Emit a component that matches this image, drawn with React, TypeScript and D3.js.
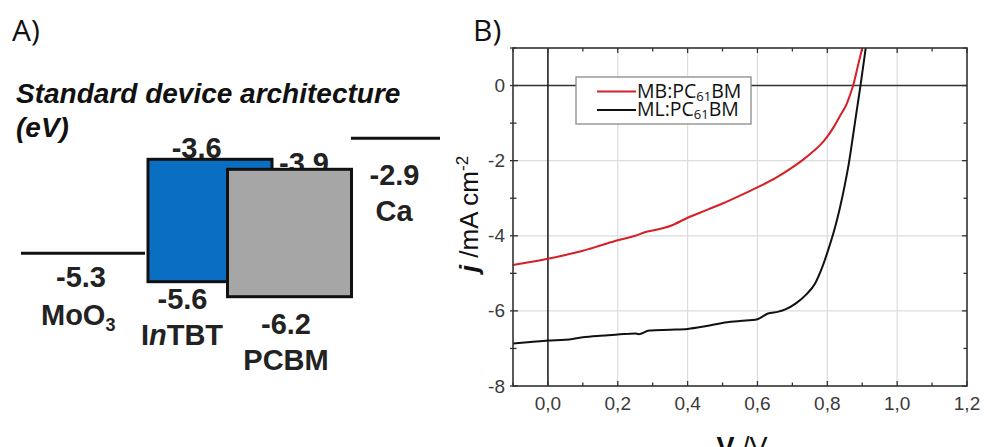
import React from "react";
import * as d3 from "d3";

// ---------- Panel B data (J–V curves) ----------
const mbV = [-0.1, -0.05, 0, 0.05, 0.1, 0.15, 0.2, 0.25, 0.28, 0.3, 0.35, 0.4, 0.45, 0.5, 0.55, 0.6, 0.65, 0.7, 0.73, 0.76, 0.78, 0.8, 0.82, 0.84, 0.855, 0.865, 0.874, 0.887, 0.9];
const mbJ = [-4.78, -4.7, -4.61, -4.51, -4.4, -4.26, -4.12, -4.0, -3.9, -3.86, -3.74, -3.52, -3.33, -3.14, -2.93, -2.71, -2.47, -2.18, -1.98, -1.75, -1.58, -1.36, -1.08, -0.75, -0.5, -0.25, 0, 0.5, 1.0];
const mlV = [-0.1, -0.05, 0, 0.05, 0.1, 0.15, 0.2, 0.25, 0.26, 0.29, 0.35, 0.4, 0.45, 0.5, 0.55, 0.6, 0.63, 0.66, 0.68, 0.71, 0.74, 0.765, 0.785, 0.8, 0.812, 0.822, 0.835, 0.85, 0.862, 0.875, 0.885, 0.895, 0.91];
const mlJ = [-6.87, -6.83, -6.79, -6.77, -6.7, -6.66, -6.63, -6.6, -6.62, -6.52, -6.5, -6.48, -6.41, -6.32, -6.27, -6.22, -6.07, -6.02, -5.96, -5.8, -5.56, -5.27, -4.85, -4.45, -4.1, -3.78, -3.3, -2.65, -2.05, -1.25, -0.62, 0, 1.0];
const xTicks = [0, 0.2, 0.4, 0.6, 0.8, 1.0, 1.2];
const xMinor = [-0.1, 0.1, 0.3, 0.5, 0.7, 0.9, 1.1];
const yTicks = [0, -2, -4, -6, -8];
const yMinor = [1, -1, -3, -5, -7];
const seriesNames = ["MB:PC", "ML:PC"];
const seriesColors = ["#d42026", "#111111"];

// ---------- Panel A data (energy levels, eV) ----------
const levelValues = [-6.2, -5.6, -5.3, -3.9, -3.6, -2.9];
const moo3Level = -5.3;
const intbtLumo = -3.6;
const intbtHomo = -5.6;
const pcbmLumo = -3.9;
const pcbmHomo = -6.2;
const caLevel = -2.9;

const fmtComma = (v: number) => d3.format(".1f")(v).replace(".", ",");

export default function App() {
  // panel B scales
  const x = d3.scaleLinear().domain([-0.1, 1.2]).range([513, 967]);
  const y = d3.scaleLinear().domain([-8, 1]).range([386, 48]);
  const line = d3
    .line<[number, number]>()
    .x((d) => x(d[0]))
    .y((d) => y(d[1]))
    .curve(d3.curveMonotoneX);
  const mb: [number, number][] = mbV.map((v, i) => [v, mbJ[i]]);
  const ml: [number, number][] = mlV.map((v, i) => [v, mlJ[i]]);

  // panel A schematic (not-to-scale) energy axis
  const yE = d3
    .scaleLinear()
    .domain(levelValues)
    .range([296.7, 281.7, 253.3, 169.3, 159.3, 138.3]);

  const boldArial = { fontFamily: "'Liberation Sans', Arial, sans-serif", fontWeight: 700 } as const;
  const lblSize = 29;
  const tickFont = { fontFamily: "'Liberation Sans', Arial, sans-serif", fontSize: 19, fill: "#3a3a3a" } as const;

  return (
    <svg width={987} height={447} style={{ position: "absolute", left: 0, top: 0, background: "#fff" }}>
      <rect width={987} height={447} fill="#fff" />
      <defs>
        <clipPath id="plotclip">
          <rect x={513} y={48} width={454} height={338} />
        </clipPath>
      </defs>

      {/* ---------------- Panel A ---------------- */}
      <text x={12} y={41} fontFamily="'Open Sans', sans-serif" fontSize={30} fill="#111">A)</text>
      <text x={16} y={103} {...boldArial} fontStyle="italic" fontSize={28} fill="#111">Standard device architecture</text>
      <text x={16} y={137} {...boldArial} fontStyle="italic" fontSize={28} fill="#111">(eV)</text>

      {/* MoO3 line */}
      <line x1={21} x2={145} y1={yE(moo3Level)} y2={yE(moo3Level)} stroke="#111" strokeWidth={3} />
      {/* Ca line */}
      <line x1={351} x2={440} y1={yE(caLevel)} y2={yE(caLevel)} stroke="#111" strokeWidth={3} />

      {/* labels under boxes drawn first */}
      <text x={196.7} y={yE(intbtLumo) - 1} textAnchor="middle" {...boldArial} fontSize={lblSize} fill="#222">-3.6</text>
      <text x={304} y={yE(pcbmLumo) + 4} textAnchor="middle" {...boldArial} fontSize={lblSize} fill="#222">-3.9</text>

      {/* InTBT box */}
      <rect x={148} y={yE(intbtLumo)} width={124} height={yE(intbtHomo) - yE(intbtLumo)} fill="#0a6ec2" stroke="#111" strokeWidth={3} />
      {/* PCBM box */}
      <rect x={227.5} y={yE(pcbmLumo)} width={124} height={yE(pcbmHomo) - yE(pcbmLumo)} fill="#a6a6a6" stroke="#111" strokeWidth={3} />

      <text x={394.5} y={yE(caLevel) + 47} textAnchor="middle" {...boldArial} fontSize={lblSize} fill="#222">-2.9</text>
      <text x={394} y={yE(caLevel) + 83} textAnchor="middle" {...boldArial} fontSize={lblSize} fill="#222">Ca</text>

      <text x={81} y={yE(moo3Level) + 34} textAnchor="middle" {...boldArial} fontSize={lblSize} fill="#222">-5.3</text>
      <text x={41} y={yE(moo3Level) + 72} {...boldArial} fontSize={lblSize} fill="#222">
        MoO<tspan fontSize={18} dy={6}>3</tspan>
      </text>

      <text x={182.5} y={yE(intbtHomo) + 27} textAnchor="middle" {...boldArial} fontSize={lblSize} fill="#222">-5.6</text>
      <text x={182} y={yE(intbtHomo) + 63} textAnchor="middle" {...boldArial} fontSize={lblSize} fill="#222">
        I<tspan fontStyle="italic">n</tspan>TBT
      </text>

      <text x={286} y={yE(pcbmHomo) + 37} textAnchor="middle" {...boldArial} fontSize={lblSize} fill="#222">-6.2</text>
      <text x={286} y={yE(pcbmHomo) + 73} textAnchor="middle" {...boldArial} fontSize={lblSize} fill="#222">PCBM</text>

      {/* ---------------- Panel B ---------------- */}
      <text x={473} y={41} fontFamily="'Open Sans', sans-serif" fontSize={30} fill="#111">B)</text>

      {/* grid */}
      {xTicks.filter((t) => t > 0 && t < 1.2).map((t) => (
        <line key={"gx" + t} x1={x(t)} x2={x(t)} y1={y(1)} y2={y(-8)} stroke="#dcdcdc" strokeWidth={1.2} />
      ))}
      {yTicks.filter((t) => t < 0 && t > -8).map((t) => (
        <line key={"gy" + t} x1={x(-0.1)} x2={x(1.2)} y1={y(t)} y2={y(t)} stroke="#dcdcdc" strokeWidth={1.2} />
      ))}

      {/* zero lines */}
      <line x1={x(-0.1)} x2={x(1.2)} y1={y(0)} y2={y(0)} stroke="#333" strokeWidth={1.6} />
      <line x1={x(0)} x2={x(0)} y1={y(1)} y2={y(-8)} stroke="#222" strokeWidth={1.6} />

      {/* ticks (inward) */}
      {xTicks.concat(xMinor).map((t, i) => {
        const len = i < xTicks.length ? 5 : 3.5;
        return (
          <g key={"xt" + i}>
            <line x1={x(t)} x2={x(t)} y1={y(-8)} y2={y(-8) - len} stroke="#333" strokeWidth={1.3} />
            <line x1={x(t)} x2={x(t)} y1={y(1)} y2={y(1) + len} stroke="#333" strokeWidth={1.3} />
          </g>
        );
      })}
      {yTicks.concat(yMinor).map((t, i) => {
        const len = i < yTicks.length ? 5 : 3.5;
        return (
          <g key={"yt" + i}>
            <line x1={x(-0.1) - 3} x2={x(-0.1) + len} y1={y(t)} y2={y(t)} stroke="#333" strokeWidth={1.3} />
            <line x1={x(1.2)} x2={x(1.2) - len} y1={y(t)} y2={y(t)} stroke="#333" strokeWidth={1.3} />
          </g>
        );
      })}

      {/* legend */}
      <rect x={576} y={77} width={175} height={47} fill="#fff" stroke="#8a8a8a" strokeWidth={1.3} />
      {seriesNames.map((name, i) => (
        <g key={name}>
          <line x1={597} x2={636} y1={91.5 + i * 18.5} y2={91.5 + i * 18.5} stroke={seriesColors[i]} strokeWidth={2} />
          <text x={637} y={97.5 + i * 18.5} fontFamily="'Open Sans', sans-serif" fontSize={19.5} fill="#111">
            {name}
            <tspan fontSize={13} dy={3}>61</tspan>
            <tspan dy={-3}>BM</tspan>
          </text>
        </g>
      ))}

      {/* curves */}
      <g clipPath="url(#plotclip)">
        <path d={line(mb) || ""} fill="none" stroke={seriesColors[0]} strokeWidth={2} />
        <path d={line(ml) || ""} fill="none" stroke={seriesColors[1]} strokeWidth={2} />
      </g>

      {/* frame */}
      <rect x={x(-0.1)} y={y(1)} width={x(1.2) - x(-0.1)} height={y(-8) - y(1)} fill="none" stroke="#333" strokeWidth={1.6} />

      {/* tick labels */}
      {xTicks.map((t) => (
        <text key={"xl" + t} x={x(t)} y={410} textAnchor="middle" {...tickFont}>{fmtComma(t)}</text>
      ))}
      {yTicks.map((t) => (
        <text key={"yl" + t} x={505} y={y(t) + 6.5} textAnchor="end" {...tickFont}>{t}</text>
      ))}

      {/* axis labels */}
      <text x={742} y={456} textAnchor="middle" fontFamily="'Liberation Sans', Arial, sans-serif" fontSize={27} fill="#111">
        <tspan fontWeight={700}>V</tspan> /V
      </text>
      <text transform="translate(478,214) rotate(-90)" textAnchor="middle" fontFamily="'Liberation Sans', Arial, sans-serif" fontSize={26} fill="#111">
        <tspan fontWeight={700} fontStyle="italic">j</tspan> /mA cm<tspan fontSize={17} dy={-10}>-2</tspan>
      </text>
    </svg>
  );
}
